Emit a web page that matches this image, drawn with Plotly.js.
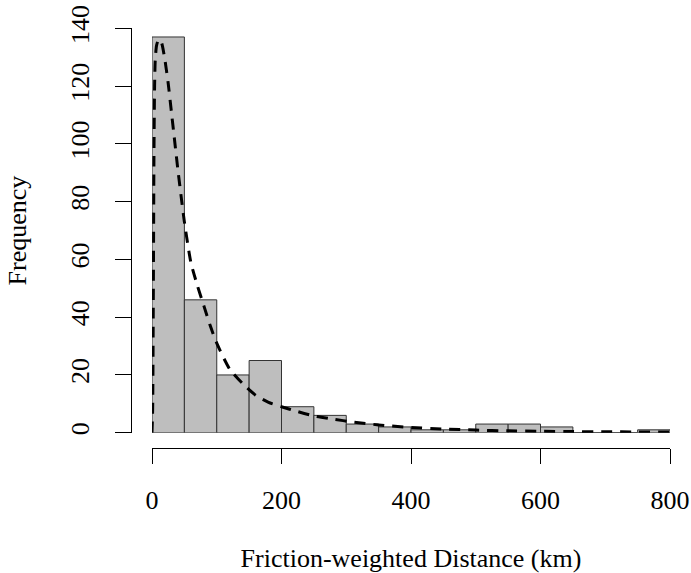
<!DOCTYPE html>
<html>
<head>
<meta charset="utf-8">
<script src="https://cdn.plot.ly/plotly-3.0.1.min.js"></script>
<style>html,body{margin:0;padding:0;background:#fff;}#chart{width:691px;height:573px;}</style>
</head>
<body>
<div id="chart"></div>
<script>
// Histogram bins (left edges, width 50 km) and counts
var binStarts = [0, 50, 100, 150, 200, 250, 300, 350, 400, 450, 500, 550, 600, 650, 700, 750];
var binWidth = 50;
var counts = [137, 46, 20, 25, 9, 6, 3, 2, 1, 1, 3, 3, 2, 0, 0, 1];

// Fitted density curve (scaled to frequency)
var densX = [0, 1, 2, 3, 4, 5, 7, 10, 13, 16, 20, 25, 30, 35, 40, 46, 50, 60, 70, 80, 90, 100, 120, 140, 160, 180, 200, 225, 250, 280, 310, 350, 400, 450, 500, 550, 600, 650, 700, 750, 800];
var densY = [0, 8, 45, 95, 120, 129, 134, 136, 136, 134, 129, 121, 111, 101, 91, 80, 73, 59, 51, 44, 37, 31, 22, 17, 13, 10.5, 9, 7.3, 5.8, 4.7, 3.7, 2.7, 1.8, 1.3, 0.9, 0.65, 0.5, 0.4, 0.32, 0.27, 0.22];

var xTicks = [0, 200, 400, 600, 800];
var yTicks = [0, 20, 40, 60, 80, 100, 120, 140];

var centers = binStarts.map(function(s){ return s + binWidth/2; });

var font = "Liberation Serif";

var traces = [
  {
    type: 'bar',
    x: centers,
    y: counts,
    width: binWidth,
    marker: {color: '#bebebe', line: {color: '#333333', width: 1}},
    hoverinfo: 'none'
  },
  {
    type: 'scatter',
    mode: 'lines',
    x: densX,
    y: densY,
    line: {color: '#000000', width: 3, dash: '11px,8px', shape: 'spline', smoothing: 0.6},
    cliponaxis: false,
    hoverinfo: 'none'
  }
];

var layout = {
  width: 691,
  height: 573,
  margin: {l: 131, r: 0, t: 21, b: 125, pad: 0},
  paper_bgcolor: '#ffffff',
  plot_bgcolor: '#ffffff',
  showlegend: false,
  bargap: 0,
  font: {family: font, size: 26, color: '#000000'},
  xaxis: {
    domain: [0.0375, 0.9625],
    range: [0, 800],
    anchor: 'free',
    position: 0,
    showgrid: false,
    zeroline: false,
    showline: true,
    linecolor: '#000000',
    linewidth: 1,
    ticks: 'outside',
    ticklen: 15,
    tickwidth: 1,
    tickcolor: '#000000',
    tickmode: 'array',
    tickvals: xTicks,
    ticktext: xTicks.map(String),
    ticklabelstandoff: 14,
    tickfont: {family: font, size: 26, color: '#000000'},
    title: {text: 'Friction-weighted Distance (km)', font: {family: font, size: 26, color: '#000000'}, standoff: 46}
  },
  yaxis: {
    domain: [0.0358, 0.9829],
    range: [0, 140],
    anchor: 'free',
    position: 0,
    showgrid: false,
    zeroline: false,
    showline: true,
    linecolor: '#000000',
    linewidth: 1,
    ticks: 'outside',
    ticklen: 16,
    tickwidth: 1,
    tickcolor: '#000000',
    tickmode: 'array',
    tickvals: yTicks,
    ticktext: yTicks.map(String),
    tickangle: -90,
    ticklabelstandoff: 16,
    tickfont: {family: font, size: 26, color: '#000000'},
    title: {text: 'Frequency', font: {family: font, size: 26, color: '#000000'}, standoff: 30}
  }
};

Plotly.newPlot('chart', traces, layout, {staticPlot: true, displayModeBar: false});
</script>
</body>
</html>
